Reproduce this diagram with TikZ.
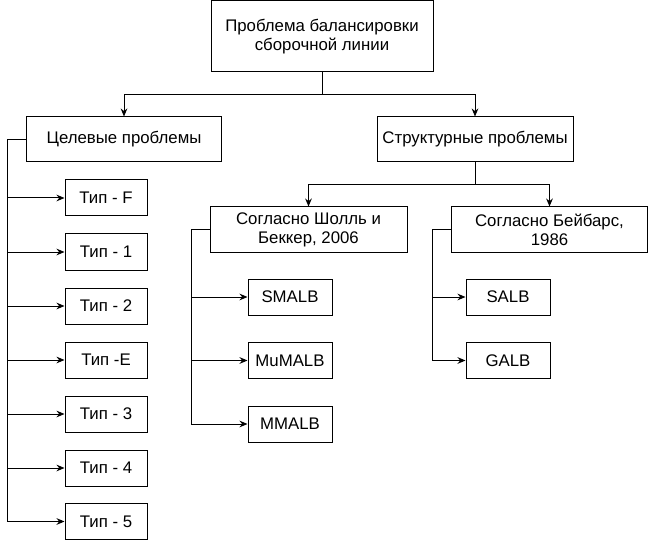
\documentclass[tikz,border=0pt]{standalone}
\usepackage{fontspec}
\setmainfont{Liberation Sans}
\usetikzlibrary{arrows.meta}

\tikzset{
  box/.style={draw, line width=0.75pt, align=center, inner sep=0pt,
    font=\fontsize{12.6}{14.4}\selectfont},
  arr/.style={line width=0.75pt, -{Stealth[length=6pt,width=5pt]}},
  ln/.style={line width=0.75pt}
}

\begin{document}
\begin{tikzpicture}[x=0.75pt, y=-0.75pt]
			%%%%% START %%%%%
			\useasboundingbox (0, 0) rectangle (648, 541);
			
			\node[box, minimum width=166.5pt, minimum height=53.25pt] (root) at (322, 36.5) {Проблема балансировки\\сборочной линии};
			
			\node[box, minimum width=146.25pt, minimum height=33.75pt] (cel) at (124, 139.5) {Целевые проблемы};
			\node[box, minimum width=147pt, minimum height=33.75pt] (str) at (475, 139.5) {Структурные проблемы};
			
			\node[box, minimum width=61.5pt, minimum height=27pt] (tF) at (106, 198) {Тип - F};
			\node[box, minimum width=61.5pt, minimum height=27pt] (t1) at (106, 252) {Тип - 1};
			\node[box, minimum width=61.5pt, minimum height=27pt] (t2) at (106, 306) {Тип - 2};
			\node[box, minimum width=61.5pt, minimum height=27pt] (tE) at (106, 360) {Тип -E};
			\node[box, minimum width=61.5pt, minimum height=27pt] (t3) at (106, 414) {Тип - 3};
			\node[box, minimum width=61.5pt, minimum height=27pt] (t4) at (106, 468) {Тип - 4};
			\node[box, minimum width=61.5pt, minimum height=27pt] (t5) at (106, 521.5) {Тип - 5};
			
			\node[box, minimum width=147.75pt, minimum height=33.75pt] (scholl) at (308.5, 229.5) {Согласно Шолль и\\Беккер, 2006};
			\node[box, minimum width=147pt, minimum height=33.75pt] (baybars) at (549.5, 229.5) {Согласно Бейбарс,\\1986};
			
			\node[box, minimum width=63pt, minimum height=27pt] (smalb) at (290, 297) {SMALB};
			\node[box, minimum width=63pt, minimum height=27pt] (mumalb) at (290, 360.5) {MuMALB};
			\node[box, minimum width=63pt, minimum height=27pt] (mmalb) at (290, 424) {MMALB};
			
			\node[box, minimum width=63pt, minimum height=27pt] (salb) at (508, 297) {SALB};
			\node[box, minimum width=63pt, minimum height=27pt] (galb) at (508, 360.5) {GALB};
			
			% junctions
			\coordinate (rj) at (322, 95);
			\coordinate (sj) at (475, 185);
			\coordinate (ct) at (7, 139.5);
			\coordinate (sc) at (191, 229.5);
			\coordinate (bc) at (432, 229.5);
			
			\draw[arr] (root.south) -- (rj) -| (cel.north);
			\draw[arr] (rj) -| (str.north);
			
			\draw[arr] (str.south) -- (sj) -| (scholl.north);
			\draw[arr] (sj) -| (baybars.north);
			
			\draw[ln] (cel.west) -- (ct);
			\foreach \t in {tF,t1,t2,tE,t3,t4,t5}
				\draw[arr] (ct) |- (\t.west);
			
			\draw[ln] (scholl.west) -- (sc);
			\foreach \t in {smalb,mumalb,mmalb}
				\draw[arr] (sc) |- (\t.west);
			
			\draw[ln] (baybars.west) -- (bc);
			\foreach \t in {salb,galb}
				\draw[arr] (bc) |- (\t.west);
			
			%%%%% END %%%%%
\end{tikzpicture}
\end{document}
